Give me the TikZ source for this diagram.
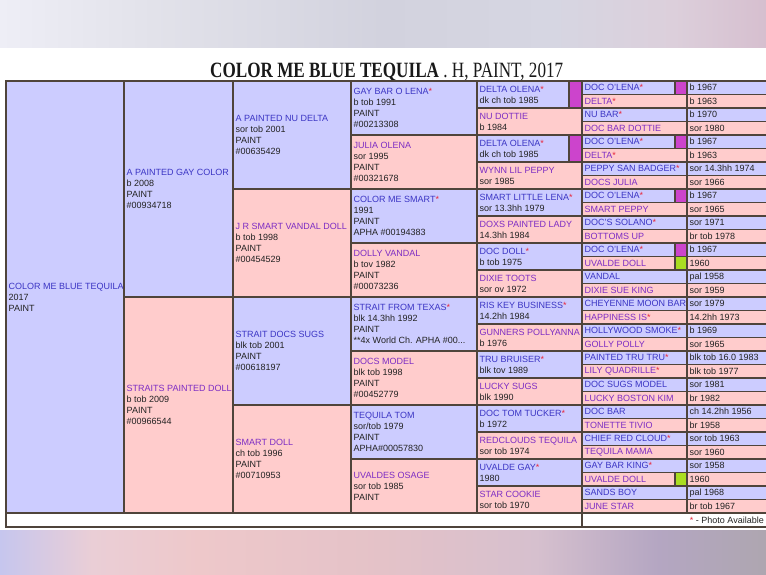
\documentclass[tikz,border=0pt]{standalone}
\usepackage{fontspec}
\usepackage{graphicx}
\setmainfont{Liberation Sans}
\newfontfamily\titlefont{Liberation Serif}
\definecolor{mcell}{HTML}{CCCCFF}
\definecolor{fcell}{HTML}{FFCCCC}
\definecolor{bcol}{HTML}{4F443B}
\definecolor{mname}{HTML}{3B35C4}
\definecolor{fname}{HTML}{7D2DC4}
\definecolor{dcol}{HTML}{222222}
\definecolor{starc}{HTML}{E8283C}
\definecolor{magsq}{HTML}{CC44CC}
\definecolor{grnsq}{HTML}{AADD22}
\definecolor{tbA}{HTML}{EEEEF6}
\definecolor{tbB}{HTML}{E2E2EA}
\definecolor{tbC}{HTML}{D2D2DE}
\definecolor{tbD}{HTML}{D6D6E2}
\definecolor{tbE}{HTML}{DCCFDB}
\definecolor{tbF}{HTML}{D6BFCF}
\definecolor{bbA}{HTML}{C6C6EE}
\definecolor{bbB}{HTML}{EACED6}
\definecolor{bbC}{HTML}{EEC8CA}
\definecolor{bbD}{HTML}{E4C2C8}
\definecolor{bbE}{HTML}{D6C0CE}
\definecolor{bbF}{HTML}{B4A6C2}
\definecolor{bbG}{HTML}{AEA6B0}
\pgfdeclarehorizontalshading{topband}{100bp}{color(0bp)=(tbA); color(25bp)=(tbA); color(35bp)=(tbB); color(50bp)=(tbC); color(61bp)=(tbD); color(69bp)=(tbE); color(75bp)=(tbF); color(100bp)=(tbF)}
\pgfdeclarehorizontalshading{bottomband}{100bp}{color(0bp)=(bbA); color(25bp)=(bbA); color(31bp)=(bbB); color(38bp)=(bbC); color(50bp)=(bbD); color(60bp)=(bbE); color(68bp)=(bbF); color(75bp)=(bbG); color(100bp)=(bbG)}
\tikzset{
  cellborder/.style={draw=bcol, line width=1.6pt},
  ctext/.style={anchor=west, inner sep=0pt, align=left, text=dcol, font=\fontsize{9}{11}\selectfont},
}
\newcommand\MN[1]{\textcolor{mname}{#1}}
\newcommand\FN[1]{\textcolor{fname}{#1}}
\newcommand\st{\textcolor{starc}{*}}
\newcommand\pcell[7]{%
  \filldraw[cellborder, fill=#6] (#2,#3) rectangle (#4,#5);
  \begin{scope}
    \clip (#2,#3) rectangle (#4-1,#5);
    \node[ctext] (#1) at (#2+2.5,{(#3+#5)/2}) {#7};
  \end{scope}}
\newcommand\cellrow[7]{%
  \pgfmathsetmacro\ya{81+#5*#4}\pgfmathsetmacro\yb{81+#5*(#4+1)}%
  \pcell{#1}{#2}{\ya}{#3}{\yb}{#6}{#7}}
\newcommand\sqcell[5]{%
  \pgfmathsetmacro\ya{81+#4*#3}\pgfmathsetmacro\yb{81+#4*(#3+1)}%
  \filldraw[cellborder, fill=#5] (#1,\ya) rectangle (#2,\yb);}
\newcommand\five[4]{%
  \cellrow{n5-#1}{582}{687}{#1}{13.5}{#2cell}{#3}%
  \cellrow{d5-#1}{687}{775}{#1}{13.5}{#2cell}{#4}}
\newcommand\fivesq[5]{%
  \cellrow{n5-#1}{582}{675}{#1}{13.5}{#2cell}{#3}%
  \sqcell{675}{687}{#1}{13.5}{#5}%
  \cellrow{d5-#1}{687}{775}{#1}{13.5}{#2cell}{#4}}
\begin{document}
\begin{tikzpicture}[x=1pt,y=-1pt]
\useasboundingbox (0,0) rectangle (766,574);
\fill[white] (0,0) rectangle (766,574);
\shade[shading=topband] (0,0) rectangle (766,47);
\shade[shading=bottomband] (0,530) rectangle (766,574);
\node[anchor=base west, inner sep=0pt, text=black!90] (title) at (210,77)
  {\resizebox{353pt}{14.5pt}{\titlefont\textbf{COLOR ME BLUE TEQUILA} . H, PAINT, 2017}};
% generation 0 and 1
\pcell{c0}{6}{81}{124}{513}{mcell}{\MN{COLOR ME BLUE TEQUILA}\\2017\\PAINT}
\pcell{c1a}{124}{81}{233}{297}{mcell}{\MN{A PAINTED GAY COLOR}\\b 2008\\PAINT\\\#00934718}
\pcell{c1b}{124}{297}{233}{513}{fcell}{\FN{STRAITS PAINTED DOLL}\\b tob 2009\\PAINT\\\#00966544}
% generation 2
\cellrow{c2a}{233}{351}{0}{108}{mcell}{\MN{A PAINTED NU DELTA}\\sor tob 2001\\PAINT\\\#00635429}
\cellrow{c2b}{233}{351}{1}{108}{fcell}{\FN{J R SMART VANDAL DOLL}\\b tob 1998\\PAINT\\\#00454529}
\cellrow{c2c}{233}{351}{2}{108}{mcell}{\MN{STRAIT DOCS SUGS}\\blk tob 2001\\PAINT\\\#00618197}
\cellrow{c2d}{233}{351}{3}{108}{fcell}{\FN{SMART DOLL}\\ch tob 1996\\PAINT\\\#00710953}
% generation 3
\cellrow{c3a}{351}{477}{0}{54}{mcell}{\MN{GAY BAR O LENA\st}\\b tob 1991\\PAINT\\\#00213308}
\cellrow{c3b}{351}{477}{1}{54}{fcell}{\FN{JULIA OLENA}\\sor 1995\\PAINT\\\#00321678}
\cellrow{c3c}{351}{477}{2}{54}{mcell}{\MN{COLOR ME SMART\st}\\1991\\PAINT\\APHA \#00194383}
\cellrow{c3d}{351}{477}{3}{54}{fcell}{\FN{DOLLY VANDAL}\\b tov 1982\\PAINT\\\#00073236}
\cellrow{c3e}{351}{477}{4}{54}{mcell}{\MN{STRAIT FROM TEXAS\st}\\blk 14.3hh 1992\\PAINT\\**4x World Ch. APHA \#00...}
\cellrow{c3f}{351}{477}{5}{54}{fcell}{\FN{DOCS MODEL}\\blk tob 1998\\PAINT\\\#00452779}
\cellrow{c3g}{351}{477}{6}{54}{mcell}{\MN{TEQUILA TOM}\\sor/tob 1979\\PAINT\\APHA\#00057830}
\cellrow{c3h}{351}{477}{7}{54}{fcell}{\FN{UVALDES OSAGE}\\sor tob 1985\\PAINT}
% generation 4
\cellrow{c4-0}{477}{569}{0}{27}{mcell}{\MN{DELTA OLENA\st}\\dk ch tob 1985}
\sqcell{569}{582}{0}{27}{magsq}
\cellrow{c4-1}{477}{582}{1}{27}{fcell}{\FN{NU DOTTIE}\\b 1984}
\cellrow{c4-2}{477}{569}{2}{27}{mcell}{\MN{DELTA OLENA\st}\\dk ch tob 1985}
\sqcell{569}{582}{2}{27}{magsq}
\cellrow{c4-3}{477}{582}{3}{27}{fcell}{\FN{WYNN LIL PEPPY}\\sor 1985}
\cellrow{c4-4}{477}{582}{4}{27}{mcell}{\MN{SMART LITTLE LENA\st}\\sor 13.3hh 1979}
\cellrow{c4-5}{477}{582}{5}{27}{fcell}{\FN{DOXS PAINTED LADY}\\14.3hh 1984}
\cellrow{c4-6}{477}{582}{6}{27}{mcell}{\MN{DOC DOLL\st}\\b tob 1975}
\cellrow{c4-7}{477}{582}{7}{27}{fcell}{\FN{DIXIE TOOTS}\\sor ov 1972}
\cellrow{c4-8}{477}{582}{8}{27}{mcell}{\MN{RIS KEY BUSINESS\st}\\14.2hh 1984}
\cellrow{c4-9}{477}{582}{9}{27}{fcell}{\FN{GUNNERS POLLYANNA}\\b 1976}
\cellrow{c4-10}{477}{582}{10}{27}{mcell}{\MN{TRU BRUISER\st}\\blk tov 1989}
\cellrow{c4-11}{477}{582}{11}{27}{fcell}{\FN{LUCKY SUGS}\\blk 1990}
\cellrow{c4-12}{477}{582}{12}{27}{mcell}{\MN{DOC TOM TUCKER\st}\\b 1972}
\cellrow{c4-13}{477}{582}{13}{27}{fcell}{\FN{REDCLOUDS TEQUILA}\\sor tob 1974}
\cellrow{c4-14}{477}{582}{14}{27}{mcell}{\MN{UVALDE GAY\st}\\1980}
\cellrow{c4-15}{477}{582}{15}{27}{fcell}{\FN{STAR COOKIE}\\sor tob 1970}
% generation 5
\fivesq{0}{m}{\MN{DOC O'LENA\st}}{b 1967}{magsq}
\five{1}{f}{\FN{DELTA\st}}{b 1963}
\five{2}{m}{\MN{NU BAR\st}}{b 1970}
\five{3}{f}{\FN{DOC BAR DOTTIE}}{sor 1980}
\fivesq{4}{m}{\MN{DOC O'LENA\st}}{b 1967}{magsq}
\five{5}{f}{\FN{DELTA\st}}{b 1963}
\five{6}{m}{\MN{PEPPY SAN BADGER\st}}{sor 14.3hh 1974}
\five{7}{f}{\FN{DOCS JULIA}}{sor 1966}
\fivesq{8}{m}{\MN{DOC O'LENA\st}}{b 1967}{magsq}
\five{9}{f}{\FN{SMART PEPPY}}{sor 1965}
\five{10}{m}{\MN{DOC'S SOLANO\st}}{sor 1971}
\five{11}{f}{\FN{BOTTOMS UP}}{br tob 1978}
\fivesq{12}{m}{\MN{DOC O'LENA\st}}{b 1967}{magsq}
\fivesq{13}{f}{\FN{UVALDE DOLL}}{1960}{grnsq}
\five{14}{m}{\MN{VANDAL}}{pal 1958}
\five{15}{f}{\FN{DIXIE SUE KING}}{sor 1959}
\five{16}{m}{\MN{CHEYENNE MOON BAR}}{sor 1979}
\five{17}{f}{\FN{HAPPINESS IS\st}}{14.2hh 1973}
\five{18}{m}{\MN{HOLLYWOOD SMOKE\st}}{b 1969}
\five{19}{f}{\FN{GOLLY POLLY}}{sor 1965}
\five{20}{m}{\MN{PAINTED TRU TRU\st}}{blk tob 16.0 1983}
\five{21}{f}{\FN{LILY QUADRILLE\st}}{blk tob 1977}
\five{22}{m}{\MN{DOC SUGS MODEL}}{sor 1981}
\five{23}{f}{\FN{LUCKY BOSTON KIM}}{br 1982}
\five{24}{m}{\MN{DOC BAR}}{ch 14.2hh 1956}
\five{25}{f}{\FN{TONETTE TIVIO}}{br 1958}
\five{26}{m}{\MN{CHIEF RED CLOUD\st}}{sor tob 1963}
\five{27}{f}{\FN{TEQUILA MAMA}}{sor 1960}
\five{28}{m}{\MN{GAY BAR KING\st}}{sor 1958}
\fivesq{29}{f}{\FN{UVALDE DOLL}}{1960}{grnsq}
\five{30}{m}{\MN{SANDS BOY}}{pal 1968}
\five{31}{f}{\FN{JUNE STAR}}{br tob 1967}
% footer
\filldraw[cellborder, fill=white] (6,513) rectangle (582,527);
\filldraw[cellborder, fill=white] (582,513) rectangle (775,527);
\node[anchor=east, inner sep=0pt, text=dcol, font=\fontsize{9}{11}\selectfont] (foot) at (764,520.5) {\st{} - Photo Available};
\end{tikzpicture}
\end{document}
